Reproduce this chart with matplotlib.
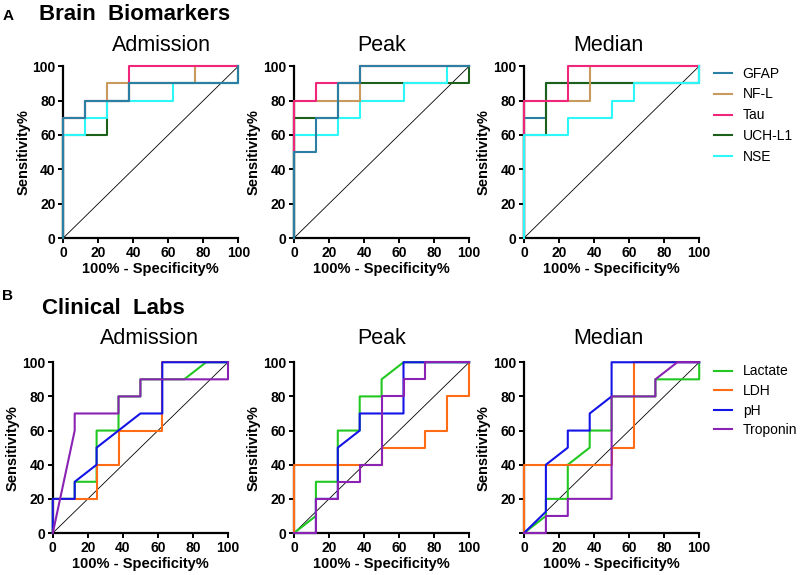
import matplotlib
matplotlib.use('Agg')
import matplotlib.pyplot as plt

plt.rcParams['font.family'] = ['Liberation Sans', 'DejaVu Sans']

# ROC curves: lists of (100% - specificity, sensitivity) points
brain_names = ['GFAP', 'NF-L', 'Tau', 'UCH-L1', 'NSE']
brain_colors = ['#2b7fa3', '#c89a5e', '#f0267a', '#1b601b', '#2ef7f7']

brain_admission = {
    'GFAP': [(0, 0), (0, 70), (12.5, 70), (12.5, 80), (37.5, 80), (37.5, 90), (100, 90), (100, 100)],
    'NF-L': [(0, 0), (0, 70), (12.5, 70), (12.5, 80), (25, 80), (25, 90), (75, 90), (75, 100), (100, 100)],
    'Tau': [(0, 0), (0, 70), (12.5, 70), (12.5, 80), (37.5, 80), (37.5, 100), (100, 100)],
    'UCH-L1': [(0, 0), (0, 60), (25, 60), (25, 80), (37.5, 80), (37.5, 90), (100, 90), (100, 100)],
    'NSE': [(0, 0), (0, 60), (12.5, 60), (12.5, 70), (25, 70), (25, 80), (62.5, 80), (62.5, 90), (100, 90), (100, 100)],
}
brain_peak = {
    'GFAP': [(0, 0), (0, 50), (12.5, 50), (12.5, 70), (25, 70), (25, 90), (37.5, 90), (37.5, 100), (100, 100)],
    'NF-L': [(0, 0), (0, 80), (37.5, 80), (37.5, 100), (100, 100)],
    'Tau': [(0, 0), (0, 80), (12.5, 80), (12.5, 90), (37.5, 90), (37.5, 100), (100, 100)],
    'UCH-L1': [(0, 0), (0, 70), (25, 70), (25, 90), (100, 90), (100, 100)],
    'NSE': [(0, 0), (0, 60), (25, 60), (25, 70), (37.5, 70), (37.5, 80), (62.5, 80), (62.5, 90), (87.5, 90), (87.5, 100), (100, 100)],
}
brain_median = {
    'GFAP': [(0, 0), (0, 70), (12.5, 70), (12.5, 90), (100, 90), (100, 100)],
    'NF-L': [(0, 0), (0, 80), (37.5, 80), (37.5, 100), (100, 100)],
    'Tau': [(0, 0), (0, 80), (25, 80), (25, 100), (100, 100)],
    'UCH-L1': [(0, 0), (0, 60), (12.5, 60), (12.5, 90), (100, 90), (100, 100)],
    'NSE': [(0, 0), (0, 60), (25, 60), (25, 70), (50, 70), (50, 80), (62.5, 80), (62.5, 90), (100, 90), (100, 100)],
}

lab_names = ['Lactate', 'LDH', 'pH', 'Troponin']
lab_colors = ['#22c822', '#ff6c14', '#1414e6', '#8a22b4']

lab_admission = {
    'Lactate': [(0, 0), (0, 20), (12.5, 20), (12.5, 30), (25, 30), (25, 60), (37.5, 60), (37.5, 80), (50, 80), (50, 90), (75, 90), (87.5, 100), (100, 100)],
    'LDH': [(0, 0), (0, 20), (25, 20), (25, 40), (37.5, 40), (37.5, 60), (62.5, 60), (62.5, 100), (100, 100)],
    'pH': [(0, 0), (0, 20), (12.5, 20), (12.5, 30), (25, 40), (25, 50), (37.5, 60), (50, 70), (62.5, 70), (62.5, 100), (100, 100)],
    'Troponin': [(0, 0), (12.5, 60), (12.5, 70), (37.5, 70), (37.5, 80), (50, 80), (50, 90), (100, 90), (100, 100)],
}
lab_peak = {
    'Lactate': [(0, 0), (12.5, 10), (12.5, 30), (25, 30), (25, 60), (37.5, 60), (37.5, 80), (50, 80), (50, 90), (62.5, 100), (100, 100)],
    'LDH': [(0, 0), (0, 40), (50, 40), (50, 50), (75, 50), (75, 60), (87.5, 60), (87.5, 80), (100, 80), (100, 100)],
    'pH': [(0, 0), (12.5, 0), (12.5, 20), (25, 20), (25, 50), (37.5, 60), (37.5, 70), (62.5, 70), (62.5, 100), (100, 100)],
    'Troponin': [(0, 0), (12.5, 0), (12.5, 20), (25, 20), (25, 30), (37.5, 30), (37.5, 40), (50, 40), (50, 80), (62.5, 80), (62.5, 90), (75, 90), (75, 100), (100, 100)],
}
lab_median = {
    'Lactate': [(0, 0), (12.5, 10), (12.5, 20), (25, 20), (25, 40), (37.5, 50), (37.5, 60), (50, 60), (50, 80), (75, 80), (75, 90), (100, 90), (100, 100)],
    'LDH': [(0, 0), (0, 40), (50, 40), (50, 50), (62.5, 50), (62.5, 100), (100, 100)],
    'pH': [(0, 0), (12.5, 12.5), (12.5, 40), (25, 50), (25, 60), (37.5, 60), (37.5, 70), (50, 80), (50, 100), (100, 100)],
    'Troponin': [(0, 0), (12.5, 0), (12.5, 10), (25, 10), (25, 20), (50, 20), (50, 80), (75, 80), (75, 90), (87.5, 100), (100, 100)],
}

diag = [0, 100]
ticks = [0, 20, 40, 60, 80, 100]

fig = plt.figure(figsize=(8, 5.75), dpi=100)


def roc_panel(rect, title, curves, names, colors, draw_order, title_x=0.5, title_pad=11, hide_y0=False):
    ax = fig.add_axes(rect)
    ax.plot(diag, diag, color='black', lw=0.6, zorder=1)
    color_of = dict(zip(names, colors))
    for z, name in enumerate(draw_order):
        xs = [p[0] for p in curves[name]]
        ys = [p[1] for p in curves[name]]
        ax.plot(xs, ys, color=color_of[name], lw=1.5, clip_on=False, zorder=3 + z)
    ax.set_xlim(0, 100)
    ax.set_ylim(0, 100)
    ax.set_xticks(ticks)
    ax.set_yticks(ticks)
    if hide_y0:
        ax.set_yticklabels([''] + [str(t) for t in ticks[1:]])
    for s in ['top', 'right']:
        ax.spines[s].set_visible(False)
    for s in ['left', 'bottom']:
        ax.spines[s].set_linewidth(1.6)
        ax.spines[s].set_zorder(2)
    ax.tick_params(direction='out', length=3.5, width=1.4, labelsize=10, pad=2)
    for lab in ax.get_xticklabels() + ax.get_yticklabels():
        lab.set_fontweight('bold')
    ax.set_xlabel('100% - Specificity%', fontsize=10.5, fontweight='bold', labelpad=2)
    ax.set_ylabel('Sensitivity%', fontsize=10.5, fontweight='bold', labelpad=1.5)
    ax.set_title(title, fontsize=15.5, pad=title_pad, x=title_x)
    return ax


top_b, top_h = 0.586, 0.299
bot_b, bot_h = 0.073, 0.297
w = 0.219

brain_order = ['UCH-L1', 'NSE', 'NF-L', 'Tau', 'GFAP']
brain_order_med = ['GFAP', 'UCH-L1', 'NF-L', 'Tau', 'NSE']
lab_order = ['Lactate', 'LDH', 'pH', 'Troponin']

roc_panel([0.079, top_b, w, top_h], 'Admission', brain_admission, brain_names, brain_colors, brain_order, title_x=0.56)
roc_panel([0.3675, top_b, w, top_h], 'Peak', brain_peak, brain_names, brain_colors, brain_order)
ax3 = roc_panel([0.655, top_b, w, top_h], 'Median', brain_median, brain_names, brain_colors, brain_order_med, title_x=0.48)

roc_panel([0.066, bot_b, w, bot_h], 'Admission', lab_admission, lab_names, lab_colors, lab_order, title_x=0.55, title_pad=13)
roc_panel([0.3675, bot_b, w, bot_h], 'Peak', lab_peak, lab_names, lab_colors, lab_order, title_pad=13)
ax6 = roc_panel([0.655, bot_b, w, bot_h], 'Median', lab_median, lab_names, lab_colors, lab_order, title_x=0.48, title_pad=13, hide_y0=True)

# legends use the curves in legend order
h3 = [ax3.lines[1 + brain_order_med.index(n)] for n in brain_names]
ax3.legend(h3, brain_names, loc='upper left', bbox_to_anchor=(1.05, 1.03), frameon=False,
           fontsize=10, handlelength=1.3, handletextpad=0.8, labelspacing=0.5, borderaxespad=0)
h6 = [ax6.lines[1 + lab_order.index(n)] for n in lab_names]
ax6.legend(h6, lab_names, loc='upper left', bbox_to_anchor=(1.05, 1.02), frameon=False,
           fontsize=10, handlelength=1.3, handletextpad=0.8, labelspacing=0.4, borderaxespad=0)

fig.text(0.003, 0.972, 'A', fontsize=11, fontweight='bold', va='center', ha='left')
fig.text(0.049, 0.975, 'Brain  Biomarkers', fontsize=16, fontweight='bold', va='center', ha='left')
fig.text(0.003, 0.486, 'B', fontsize=11, fontweight='bold', va='center', ha='left')
fig.text(0.052, 0.464, 'Clinical  Labs', fontsize=16, fontweight='bold', va='center', ha='left')

fig.savefig('out.png', dpi=100)
